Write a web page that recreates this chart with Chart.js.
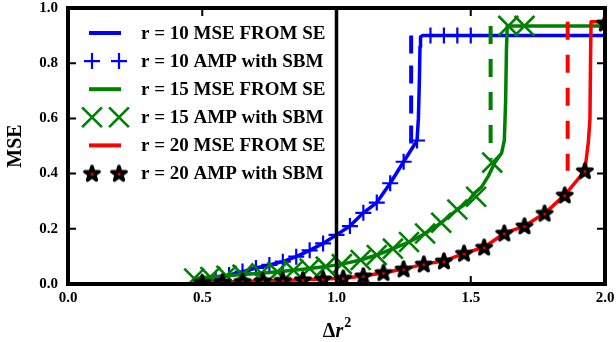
<!DOCTYPE html>
<html><head><meta charset="utf-8">
<script src="https://cdn.jsdelivr.net/npm/chart.js@4.4.1/dist/chart.umd.min.js"></script>
<style>html,body{margin:0;padding:0;background:#fff;}canvas{display:block}</style>
</head><body>
<canvas id="c" width="616" height="342"></canvas>
<script>
// ---- tick labels ----
const xTicks = [0.0, 0.5, 1.0, 1.5, 2.0];
const yTicks = [0.0, 0.2, 0.4, 0.6, 0.8, 1.0];
const xTitleParts = ['Δ', 'r', '2'];
const yTitle = 'MSE';
const seriesLabels = ['r = 10 MSE FROM SE', 'r = 10 AMP with SBM', 'r = 15 MSE FROM SE',
                      'r = 15 AMP with SBM', 'r = 20 MSE FROM SE', 'r = 20 AMP with SBM'];

// ---- r = 10 ----
const r10AmpX = [0.50,0.55,0.60,0.65,0.70,0.75,0.80,0.85,0.90,0.95,1.00,1.05,1.10,1.15,1.20,1.25,1.30,1.35,1.40,1.45,1.50];
const r10AmpY = [0.005,0.015,0.033,0.045,0.058,0.069,0.081,0.099,0.122,0.147,0.178,0.21,0.258,0.295,0.365,0.443,0.52,0.90,0.90,0.90,0.90];
const r10SeX  = [0.50,0.55,0.60,0.65,0.70,0.75,0.80,0.85,0.90,0.95,1.00,1.05,1.10,1.15,1.20,1.25,1.30,1.305,1.309,1.311,1.313,1.32,2.0];
const r10SeY  = [0.005,0.015,0.033,0.045,0.058,0.069,0.081,0.099,0.122,0.147,0.178,0.21,0.258,0.295,0.365,0.443,0.52,0.60,0.75,0.86,0.895,0.90,0.90];
const r10DashX = [1.278, 1.278];
const r10DashY = [0.90, 0.50];

// ---- r = 15 ----
const r15AmpX = [0.47,0.53,0.59,0.65,0.72,0.78,0.84,0.90,0.96,1.02,1.09,1.15,1.21,1.27,1.33,1.39,1.45,1.52,1.58,1.64,1.70];
const r15AmpY = [0.02,0.025,0.03,0.034,0.039,0.044,0.05,0.056,0.063,0.072,0.087,0.105,0.128,0.152,0.183,0.222,0.27,0.316,0.44,0.935,0.935];
const r15SeX  = [0.47,0.53,0.59,0.65,0.72,0.78,0.84,0.90,0.96,1.02,1.09,1.15,1.21,1.27,1.33,1.39,1.45,1.485,1.515,1.54,1.565,1.59,1.615,1.625,1.63,1.633,1.636,2.0];
const r15SeY  = [0.02,0.025,0.03,0.034,0.039,0.044,0.05,0.056,0.063,0.072,0.087,0.105,0.128,0.152,0.183,0.222,0.27,0.293,0.33,0.351,0.39,0.44,0.475,0.52,0.667,0.85,0.935,0.935];
const r15DashX = [1.574, 1.574];
const r15DashY = [0.935, 0.45];

// ---- r = 20 ----
const r20AmpX = [0.50,0.575,0.65,0.725,0.80,0.875,0.95,1.025,1.10,1.175,1.25,1.325,1.40,1.475,1.55,1.625,1.70,1.775,1.85,1.925,2.0];
const r20AmpY = [0.005,0.007,0.009,0.011,0.013,0.015,0.018,0.021,0.029,0.041,0.054,0.072,0.083,0.111,0.133,0.184,0.21,0.256,0.322,0.41,0.945];
const r20SeX  = [0.50,0.575,0.65,0.725,0.80,0.875,0.95,1.025,1.10,1.175,1.25,1.325,1.40,1.475,1.55,1.625,1.70,1.775,1.85,1.925,1.938,1.944,1.946,1.948,2.0];
const r20SeY  = [0.005,0.007,0.009,0.011,0.013,0.015,0.018,0.021,0.029,0.041,0.054,0.072,0.083,0.111,0.133,0.184,0.21,0.256,0.322,0.41,0.515,0.60,0.80,0.95,0.95];
const r20DashX = [1.861, 1.861];
const r20DashY = [0.95, 0.41];

// ---- reference line ----
const refLineX = [1.0, 1.0];
const refLineY = [0.0, 1.0];

const BLUE = '#0000ff', GREEN = '#008000', RED = '#ff0000', BLACK = '#000000';
const FONT = '"Liberation Serif", "Times New Roman", serif';

function pts(xs, ys) { return xs.map((x, i) => ({x: x, y: ys[i]})); }

function makeStar() {
  const c = document.createElement('canvas'); c.width = 24; c.height = 24;
  const g = c.getContext('2d');
  const R = 7.6, r = R * 0.382, cx = 12, cy = 12.5;
  g.beginPath();
  for (let i = 0; i < 10; i++) {
    const a = -Math.PI / 2 + i * Math.PI / 5, rr = (i % 2) ? r : R;
    g.lineTo(cx + rr * Math.cos(a), cy + rr * Math.sin(a));
  }
  g.closePath();
  g.fillStyle = RED; g.fill();
  g.lineWidth = 3.4; g.lineJoin = 'round'; g.strokeStyle = BLACK; g.stroke();
  return c;
}
const starImg = makeStar();

let seq = 0;
function lineDs(label, xs, ys, color, dash, width) {
  seq++;
  return {label: label, data: pts(xs, ys), borderColor: color, backgroundColor: color,
          borderWidth: width || 3.5, borderDash: dash || [], pointRadius: 0, pointHoverRadius: 0,
          showLine: true, fill: false, tension: 0, order: 100 - seq, borderCapStyle: 'butt', borderJoinStyle: 'round'};
}
function markDs(label, xs, ys, color, style, radius, bw) {
  seq++;
  return {label: label, data: pts(xs, ys), showLine: false, pointStyle: style, pointRadius: radius,
          pointHoverRadius: radius, pointBorderWidth: bw, pointBorderColor: color, pointBackgroundColor: color,
          borderColor: color, backgroundColor: color, order: 100 - seq};
}

const datasets = [
  lineDs(seriesLabels[0], r10SeX, r10SeY, BLUE),
  lineDs('', r10DashX, r10DashY, BLUE, [18, 12], 4),
  markDs(seriesLabels[1], r10AmpX, r10AmpY, BLUE, 'cross', 8, 2.2),
  lineDs(seriesLabels[2], r15SeX, r15SeY, GREEN),
  lineDs('', r15DashX, r15DashY, GREEN, [18, 15], 4),
  markDs(seriesLabels[3], r15AmpX, r15AmpY, GREEN, 'crossRot', 14, 2.6),
  lineDs(seriesLabels[4], r20SeX, r20SeY, RED),
  lineDs('', r20DashX, r20DashY, RED, [18, 15], 4),
  markDs(seriesLabels[5], r20AmpX, r20AmpY, BLACK, starImg, 8, 1),
  lineDs('', refLineX, refLineY, BLACK, [], 3.5)
];

function drawMarker(ctx, kind, x, y, color) {
  ctx.save();
  if (kind === 'star') {
    ctx.drawImage(starImg, x - starImg.width / 2, y - starImg.height / 2);
  } else if (kind === 'cross') {
    ctx.strokeStyle = color; ctx.lineWidth = 2.2; ctx.beginPath();
    ctx.moveTo(x - 8, y); ctx.lineTo(x + 8, y); ctx.moveTo(x, y - 8); ctx.lineTo(x, y + 8); ctx.stroke();
  } else if (kind === 'x') {
    const d = 14 * Math.SQRT1_2;
    ctx.strokeStyle = color; ctx.lineWidth = 2.6; ctx.beginPath();
    ctx.moveTo(x - d, y - d); ctx.lineTo(x + d, y + d); ctx.moveTo(x - d, y + d); ctx.lineTo(x + d, y - d); ctx.stroke();
  }
  ctx.restore();
}

const decor = {
  id: 'decor',
  afterDatasetsDraw(chart) {
    const ctx = chart.ctx, a = chart.chartArea, xs = chart.scales.x, ys = chart.scales.y;
    ctx.save();
    ctx.strokeStyle = BLACK;
    ctx.lineWidth = 2;
    const TL = 8;
    ctx.beginPath();
    xTicks.forEach(v => {
      const px = xs.getPixelForValue(v);
      ctx.moveTo(px, a.bottom); ctx.lineTo(px, a.bottom - TL);
      ctx.moveTo(px, a.top); ctx.lineTo(px, a.top + TL);
    });
    yTicks.forEach(v => {
      const py = ys.getPixelForValue(v);
      ctx.moveTo(a.left, py); ctx.lineTo(a.left + TL, py);
      ctx.moveTo(a.right, py); ctx.lineTo(a.right - TL, py);
    });
    ctx.stroke();
    ctx.lineWidth = 4;
    ctx.strokeRect(a.left, a.top, a.right - a.left, a.bottom - a.top);
    ctx.restore();
  },
  afterDraw(chart) {
    const ctx = chart.ctx, a = chart.chartArea;
    ctx.save();
    const entries = [
      {t: seriesLabels[0], kind: 'line', c: BLUE},
      {t: seriesLabels[1], kind: 'cross', c: BLUE},
      {t: seriesLabels[2], kind: 'line', c: GREEN},
      {t: seriesLabels[3], kind: 'x', c: GREEN},
      {t: seriesLabels[4], kind: 'line', c: RED},
      {t: seriesLabels[5], kind: 'star', c: BLACK}
    ];
    ctx.font = 'bold 19px ' + FONT;
    ctx.textBaseline = 'middle'; ctx.textAlign = 'left';
    entries.forEach((e, i) => {
      const y = 33 + i * 28.1;
      if (e.kind === 'line') {
        ctx.strokeStyle = e.c; ctx.lineWidth = 4; ctx.beginPath();
        ctx.moveTo(89, y); ctx.lineTo(121, y); ctx.stroke();
      } else {
        drawMarker(ctx, e.kind, 92, y, e.c);
        drawMarker(ctx, e.kind, 119, y, e.c);
      }
      ctx.fillStyle = BLACK;
      ctx.fillText(e.t, 141, y + 1);
    });
    ctx.fillStyle = BLACK;
    ctx.textBaseline = 'alphabetic';
    const cx = (a.left + a.right) / 2;
    ctx.font = 'bold 20px ' + FONT;
    const w0 = ctx.measureText(xTitleParts[0]).width;
    ctx.font = 'italic bold 20px ' + FONT;
    const w1 = ctx.measureText(xTitleParts[1]).width;
    ctx.font = 'bold 14px ' + FONT;
    const w2 = ctx.measureText(xTitleParts[2]).width;
    let x0 = cx - (w0 + w1 + w2) / 2;
    const base = 337;
    ctx.font = 'bold 20px ' + FONT; ctx.fillText(xTitleParts[0], x0, base); x0 += w0;
    ctx.font = 'italic bold 20px ' + FONT; ctx.fillText(xTitleParts[1], x0, base); x0 += w1 + 1;
    ctx.font = 'bold 14px ' + FONT; ctx.fillText(xTitleParts[2], x0, base - 10);
    ctx.save();
    ctx.translate(21, (a.top + a.bottom) / 2);
    ctx.rotate(-Math.PI / 2);
    ctx.font = 'bold 20px ' + FONT;
    ctx.textAlign = 'center';
    ctx.fillText(yTitle, 0, 0);
    ctx.restore();
    ctx.restore();
  }
};

new Chart(document.getElementById('c'), {
  type: 'scatter',
  data: {datasets: datasets},
  options: {
    responsive: false, animation: false, devicePixelRatio: 1,
    layout: {autoPadding: false, padding: {top: 8, right: 11, left: 0, bottom: 0}},
    plugins: {legend: {display: false}, tooltip: {enabled: false}},
    scales: {
      x: {type: 'linear', min: 0, max: 2,
          afterBuildTicks: s => { s.ticks = xTicks.map(v => ({value: v})); },
          afterFit: s => { s.height = 58; s.paddingLeft = 0; s.paddingRight = 0; },
          grid: {display: false, drawTicks: false}, border: {display: false},
          ticks: {padding: 5, color: BLACK, font: {family: FONT, size: 15, weight: 'bold'},
                  callback: v => Number(v).toFixed(1), maxRotation: 0, autoSkip: false}},
      y: {type: 'linear', min: 0, max: 1,
          afterBuildTicks: s => { s.ticks = yTicks.map(v => ({value: v})); },
          afterFit: s => { s.width = 68; s.paddingTop = 0; s.paddingBottom = 0; },
          grid: {display: false, drawTicks: false}, border: {display: false},
          ticks: {padding: 10, color: BLACK, font: {family: FONT, size: 15, weight: 'bold'},
                  callback: v => Number(v).toFixed(1)}}
    }
  },
  plugins: [decor]
});
</script>
</body></html>
